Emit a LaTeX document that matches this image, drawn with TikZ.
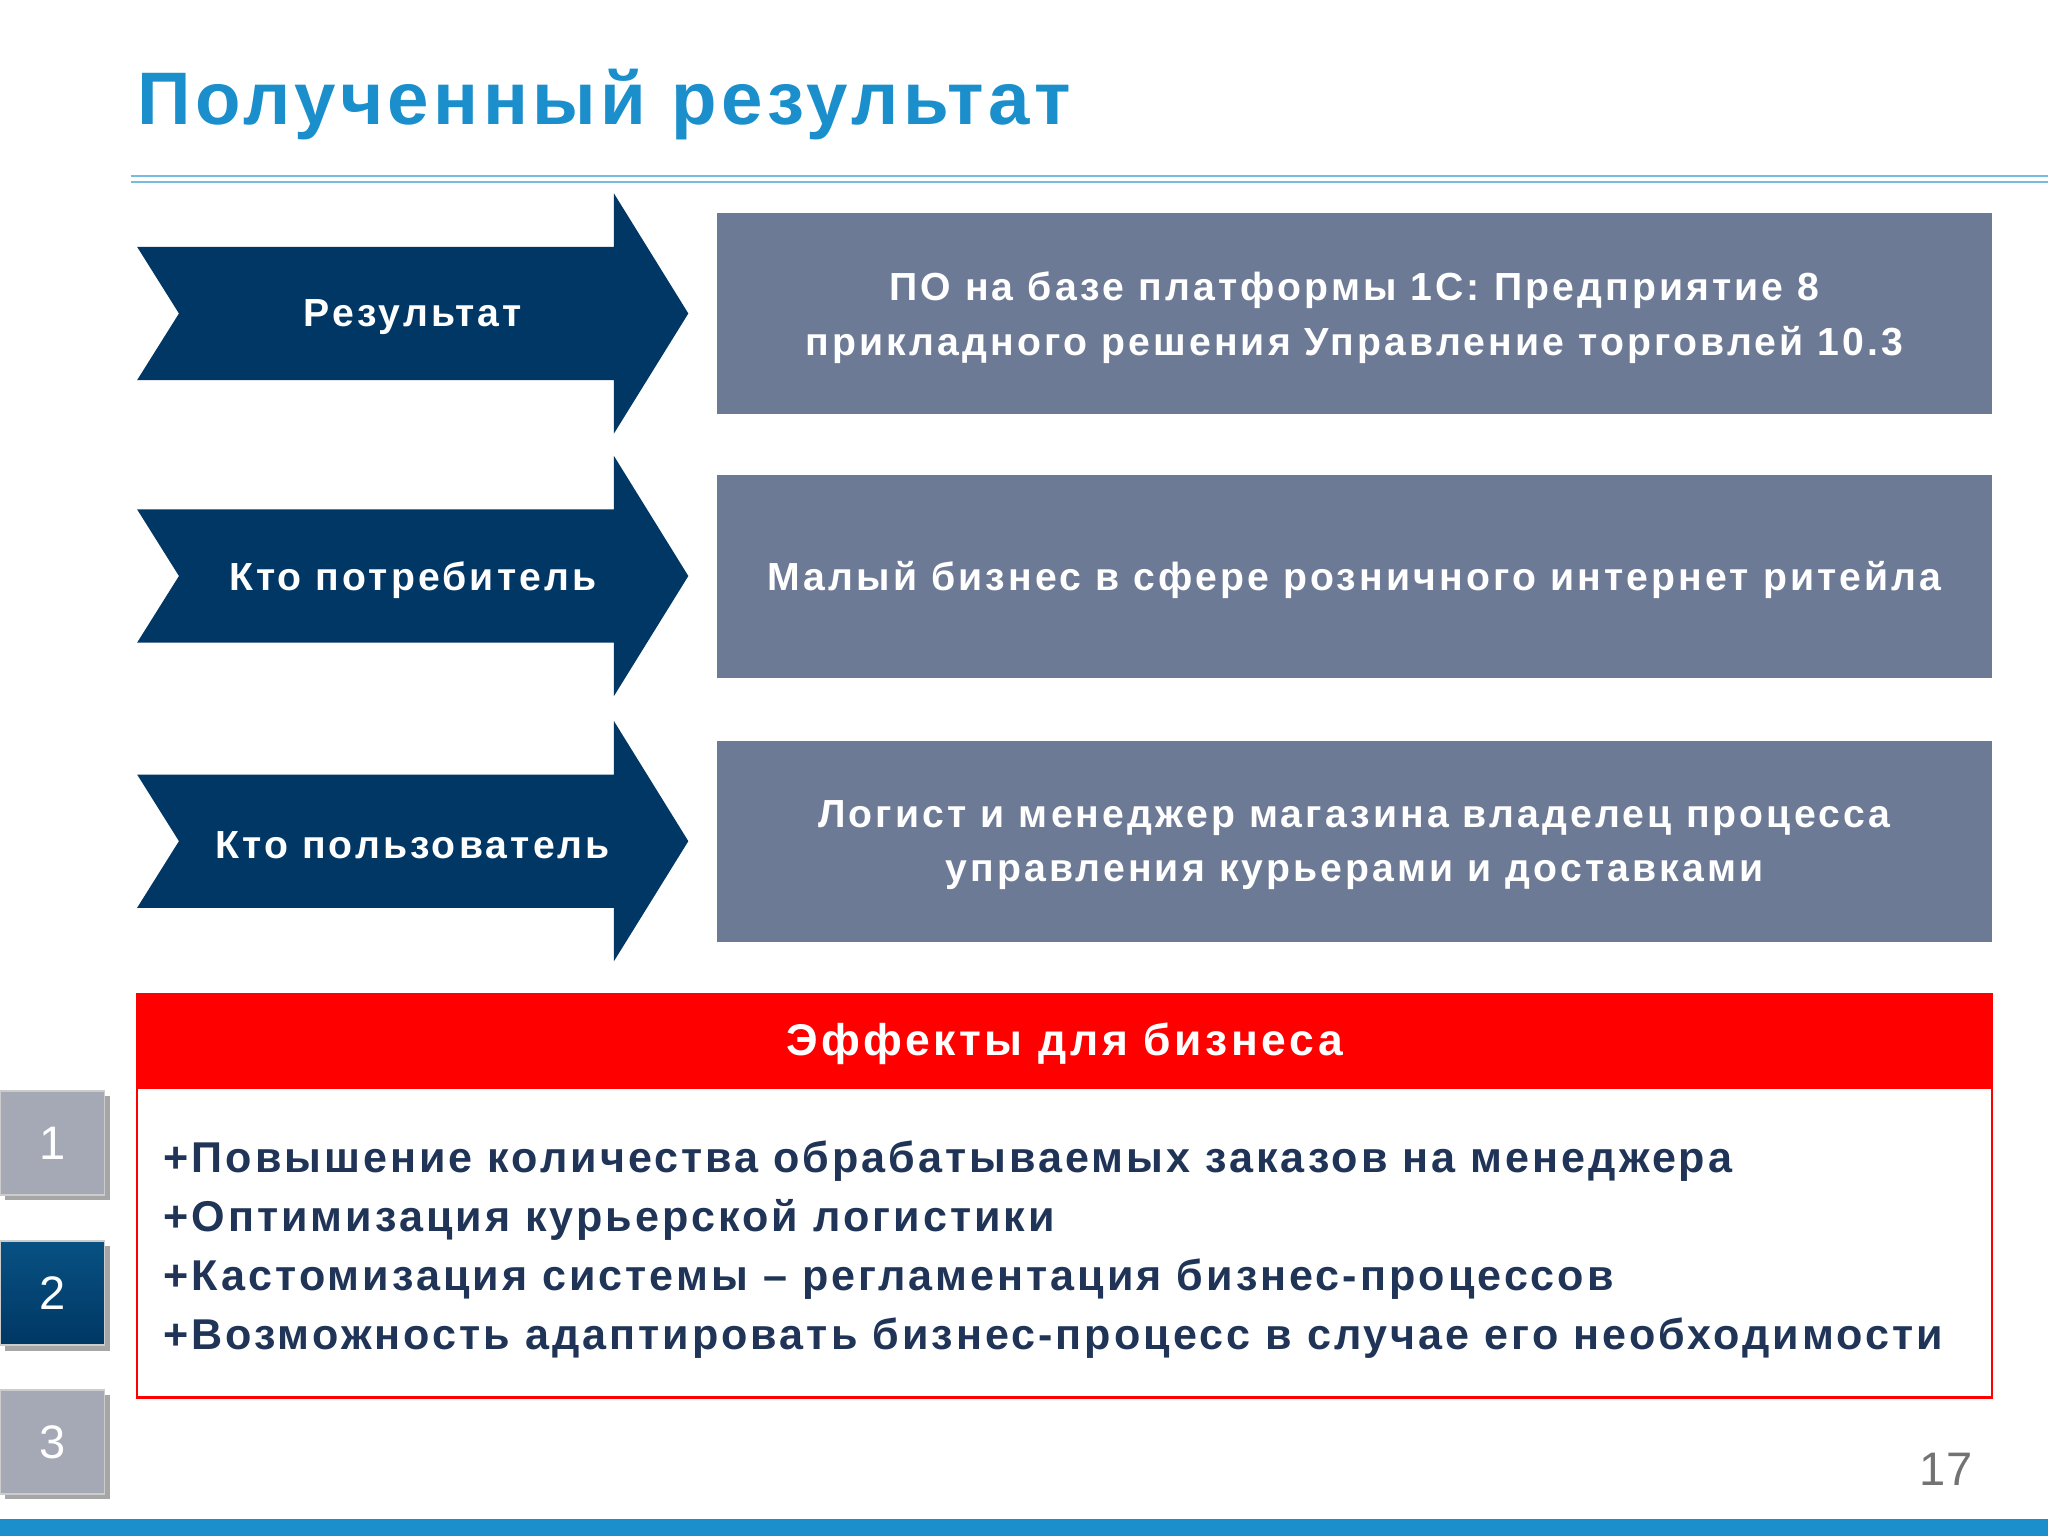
\documentclass[tikz,border=0pt]{standalone}
\usepackage{fontspec}
\setmainfont{Liberation Sans}
\newfontfamily\wideA[LetterSpace=6]{Liberation Sans}
\newfontfamily\wideB[LetterSpace=8]{Liberation Sans}
\newfontfamily\wideC[LetterSpace=7]{Liberation Sans}
\definecolor{navy}{HTML}{003764}
\definecolor{slate}{HTML}{6D7A96}
\definecolor{ttl}{HTML}{1A8FCB}
\definecolor{btxt}{HTML}{1F3457}
\definecolor{sq}{HTML}{A4A9B5}
\begin{document}
\begin{tikzpicture}[x=1pt,y=-1pt,
  arr/.style={fill=navy},
  gbox/.style={fill=slate},
  atxt/.style={text=white,font=\wideB\fontsize{30}{36}\selectfont\bfseries,align=center},
  gtxt/.style={text=white,font=\wideB\fontsize{30}{42}\selectfont\bfseries,align=center},
  sqbox/.style={minimum width=80pt,minimum height=80pt,inner sep=0pt,draw=white!80!black,line width=1.5pt,font=\fontsize{36}{40}\selectfont,text=white}]
\useasboundingbox (0,0) rectangle (1568,1176);
\fill[white] (0,0) rectangle (1568,1176);
\node[anchor=base west,text=ttl,font=\wideA\fontsize{57}{60}\selectfont\bfseries,inner sep=0pt] (title) at (105,95) {Полученный результат};
\draw[ttl!60,line width=1.5pt] (100,135) -- (1568,135);
\draw[ttl!60,line width=1.5pt] (100,139.5) -- (1568,139.5);
\foreach \i/\y/\t in {1/240/Результат,2/441/Кто потребитель,3/644/Кто пользователь}{
  \fill[arr] (105,\y-51) -- (470,\y-51) -- (470,\y-92) -- (527,\y) -- (470,\y+92) -- (470,\y+51) -- (105,\y+51) -- (137,\y) -- cycle;
  \node[atxt] (a\i) at (316,\y+3) {\t};
}
\fill[gbox] (549,163) rectangle (1525,317);
\node[gtxt] (g1) at (1037,243) {ПО на базе платформы 1С: Предприятие 8\\прикладного решения Управление торговлей 10.3};
\fill[gbox] (549,364) rectangle (1525,519);
\node[gtxt] (g2) at (1037,444) {Малый бизнес в сфере розничного интернет ритейла};
\fill[gbox] (549,567) rectangle (1525,721);
\node[gtxt] (g3) at (1037,647) {Логист и менеджер магазина владелец процесса\\управления курьерами и доставками};
\draw[red,line width=2pt,fill=white] (105,833) rectangle (1525,1070);
\fill[red] (104,760) rectangle (1526,833);
\node[text=white,font=\wideB\fontsize{34}{40}\selectfont\bfseries] (eh) at (815,799) {Эффекты для бизнеса};
\foreach \y/\t in {898/Повышение количества обрабатываемых заказов на менеджера,943/Оптимизация курьерской логистики,988/Кастомизация системы – регламентация бизнес-процессов,1033/Возможность адаптировать бизнес-процесс в случае его необходимости}{
  \node[anchor=base west,inner sep=0pt,text=btxt,font=\wideC\fontsize{33}{36}\selectfont\bfseries] at (125,\y) {+\t};
}
\fill[black!35] (4,839) rectangle (84,919);
\node[sqbox,fill=sq] (s1) at (40,875) {1};
\fill[black!35] (4,954) rectangle (84,1034);
\node[sqbox,top color=navy!70!ttl,bottom color=navy] (s2) at (40,990) {2};
\fill[black!35] (4,1068) rectangle (84,1148);
\node[sqbox,fill=sq] (s3) at (40,1104) {3};
\node[text=black!55,font=\fontsize{36}{40}\selectfont] (pg) at (1490,1125) {17};
\fill[ttl] (0,1163) rectangle (1568,1176);
\end{tikzpicture}
\end{document}
